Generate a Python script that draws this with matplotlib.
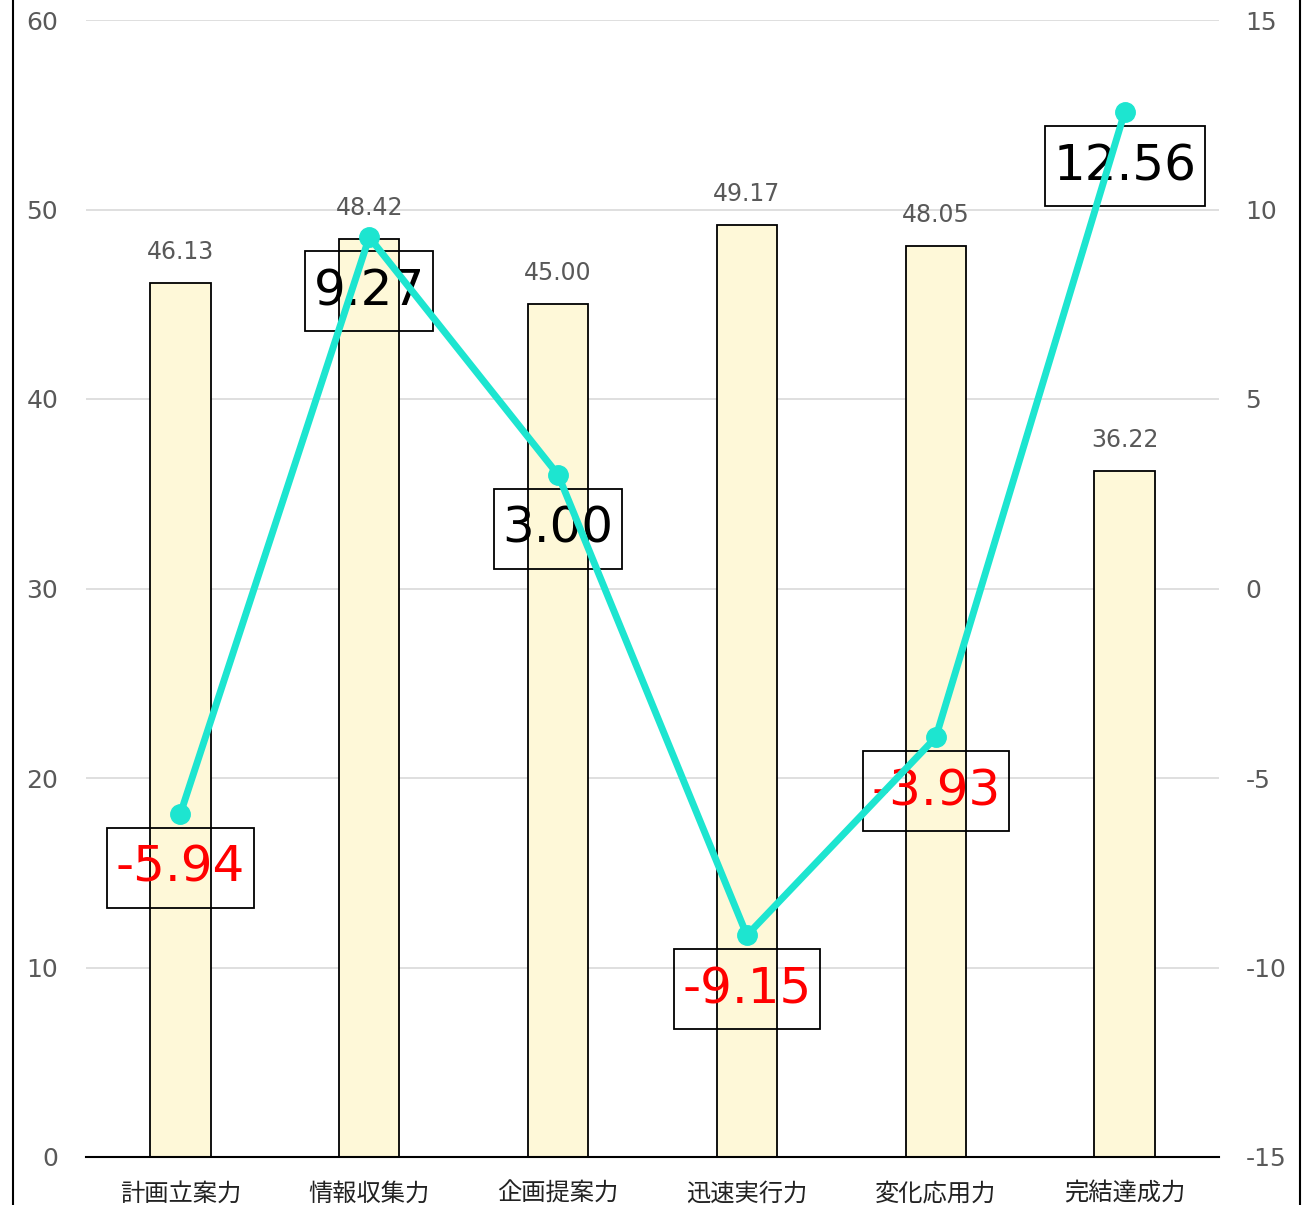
import matplotlib
matplotlib.use("Agg")
import matplotlib.pyplot as plt
from matplotlib.lines import Line2D
from matplotlib.path import Path

categories = ["計画立案力", "情報収集力", "企画提案力", "迅速実行力", "変化応用力", "完結達成力"]
bar_values = [46.13, 48.42, 45.00, 49.17, 48.05, 36.22]
line_values = [-5.94, 9.27, 3.00, -9.15, -3.93, 12.56]
left_ticks = [0, 10, 20, 30, 40, 50, 60]
right_ticks = [-15, -10, -5, 0, 5, 10, 15]

plt.rcParams['font.family'] = ['DejaVu Sans', 'Noto Sans CJK JP']
plt.rcParams['axes.unicode_minus'] = False


def tallbox(x0, y0, width, height, mutation_size):
    px = 0.17 * mutation_size
    py = 0.32 * mutation_size
    x0, y0 = x0 - px, y0 - py
    x1, y1 = x0 + width + 2 * px, y0 + height + 2 * py
    return Path([(x0, y0), (x1, y0), (x1, y1), (x0, y1), (x0, y0)], closed=True)


W, H = 1308, 1205
fig = plt.figure(figsize=(W/100, H/100), dpi=100)
ax = fig.add_axes([86/W, 1 - 1157/H, (1219-86)/W, (1157-20)/H])
ax2 = ax.twinx()

x = list(range(len(categories)))
ax.bar(x, bar_values, width=0.32, color='#fef8d8', edgecolor='black', linewidth=1.3, zorder=2)
for xi, v in zip(x, bar_values):
    ax.annotate(f"{v:.2f}", (xi, v), xytext=(0, 19), textcoords='offset pixels',
                ha='center', va='bottom', fontsize=17, color='#595959')

ax.set_xlim(-0.5, 5.5)
ax.set_ylim(0, 60)
ax.set_yticks(left_ticks)
ax.set_xticks(x)
ax.set_xticklabels(categories, fontfamily=['Noto Sans CJK JP'], fontsize=17.5, color='#222222')
ax.grid(axis='y', color='#d9d9d9', linewidth=1.2, zorder=0)
ax.set_axisbelow(True)
for s in ['left', 'right', 'top']:
    ax.spines[s].set_visible(False)
ax.spines['bottom'].set_linewidth(1.5)
ax.tick_params(axis='y', length=0, pad=20, labelsize=18, labelcolor='#595959')
ax.tick_params(axis='x', length=0, pad=17)

ax2.plot(x, line_values, color='#1de5d0', linewidth=5, marker='o', markersize=14, zorder=5,
         solid_capstyle='round')
ax2.set_ylim(-15, 15)
ax2.set_yticks(right_ticks)
for s in ['left', 'right', 'top', 'bottom']:
    ax2.spines[s].set_visible(False)
ax2.tick_params(axis='y', length=0, pad=19, labelsize=18, labelcolor='#595959')

for xi, v in zip(x, line_values):
    ax2.annotate(f"{v:.2f}", (xi, v), xytext=(0, -54), textcoords='offset pixels',
                 ha='center', va='center', fontsize=36,
                 color='#ff0000' if v < 0 else 'black',
                 bbox=dict(boxstyle=tallbox, facecolor='none', edgecolor='black', linewidth=1.3),
                 zorder=4)

fig.add_artist(Line2D([13/W, 13/W], [0, 1], color='black', linewidth=1.5))
fig.add_artist(Line2D([1300/W, 1300/W], [0, 1], color='black', linewidth=1.5))

fig.savefig("out.png", dpi=100)
